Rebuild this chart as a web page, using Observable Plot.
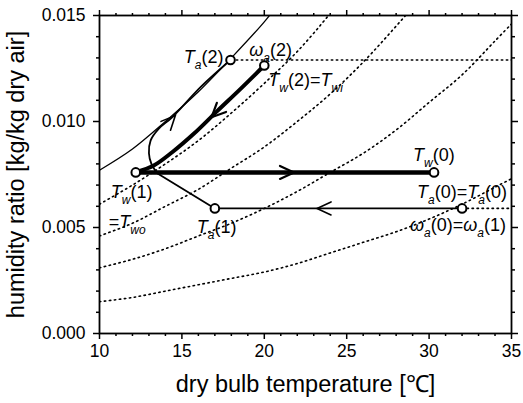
<!DOCTYPE html>
<html><head><meta charset="utf-8">
<script src="https://cdn.jsdelivr.net/npm/d3@7"></script>
<script src="https://cdn.jsdelivr.net/npm/@observablehq/plot@0.6"></script>
<style>
body{margin:0;background:#fff;}
#chart svg{display:block;font-family:"Liberation Sans",Arial,sans-serif;}
</style>
</head><body><div id="chart"></div>
<script>
// ---- data ----
const xMajor = [10, 15, 20, 25, 30, 35];
const xMinor = [11,12,13,14,16,17,18,19,21,22,23,24,26,27,28,29,31,32,33,34];
const yMajor = [0, 0.005, 0.010, 0.015];
const yMinor = [0.001,0.002,0.003,0.004,0.006,0.007,0.008,0.009,0.011,0.012,0.013,0.014];

// relative-humidity curves (dotted), dry bulb temperature vs humidity ratio
const rhT  = [10, 12, 14, 16, 18, 20, 22, 24, 26, 28, 30, 32, 34, 35];
const rh80 = [0.0061,0.0070,0.0080,0.0091,0.0104,0.0118,0.0133,0.0151,0.0171,0.0193,0.0218,0.0245,0.0275,0.0293];
const rh60 = [0.0046,0.0052,0.0060,0.0068,0.0078,0.0088,0.0100,0.0113,0.0128,0.0145,0.0163,0.0184,0.0206,0.0219];
const rh40 = [0.0031,0.0035,0.0040,0.0046,0.0052,0.0059,0.0067,0.0076,0.0085,0.0096,0.0109,0.0122,0.0138,0.0146];
const rh20 = [0.0015,0.0017,0.0020,0.0023,0.0026,0.0029,0.0033,0.0038,0.0043,0.0048,0.0054,0.0061,0.0069,0.0073];

// saturation curve (solid thin)
const satT = [10, 12, 14, 16, 18, 20, 21];
const satW = [0.0077,0.0087,0.0100,0.0114,0.0130,0.0147,0.0157];

// constant humidity-ratio dotted lines
const hLineW = [0.0129, 0.0059];
const hLineT0 = [18.0, 32.0];
const hLineT1 = [35, 35];

// state points
const ptName = ["Ta0", "Ta1", "Ta2", "Tw0", "Tw1", "Tw2"];
const ptT    = [32.0, 17.0, 17.95, 30.3, 12.2, 20.0];
const ptW    = [0.0059, 0.0059, 0.0129, 0.0076, 0.0076, 0.01264];

// air path (thin): Ta(0) -> Ta(1) -> junction
const airT1 = [32.0, 17.0, 13.5];
const airW1 = [0.0059, 0.0059, 0.00756];
// air path (thin) loop up to Ta(2)
const airT2 = [13.5, 13.15, 13.0, 13.1, 13.6, 14.41, 16.13, 17.95];
const airW2 = [0.00756, 0.0080, 0.0085, 0.0091, 0.00966, 0.0102, 0.01162, 0.0129];
// water path (thick): Tw(2) -> Tw(1) -> Tw(0)
const watT1 = [20.0, 18.56, 17.14, 15.72, 14.41, 13.29, 12.2];
const watW1 = [0.01264, 0.01154, 0.01049, 0.00942, 0.00855, 0.00792, 0.0076];
const watT2 = [12.2, 30.3];
const watW2 = [0.0076, 0.0076];

// arrow heads along the paths (tip position, direction in degrees clockwise from up)
const arrT   = [16.8, 14.6, 21.8, 23.2];
const arrW   = [0.0102, 0.01028, 0.0076, 0.0059];
const arrDir = [225, 43, 90, 270];
const arrThick = [true, false, true, false];

// annotations
const labelText = ["T_{a}(2)", "ω_{a}(2)", "T_{w}(2)=T_{wi}", "T_{w}(1)", "=T_{wo}", "T_{a}(1)", "T_{w}(0)", "T_{a}(0)=T_{a}(0)", "ω_{a}(0)=ω_{a}(1)"];
const labelAt   = ["Ta2", "Tw2", "Tw2", "Tw1", "Tw1", "Ta1", "Tw0", "Ta0", "Ta0"];
// layout of the annotations (pixel offsets from their point)
const labelLayout = [
  {dx: -7, dy: 3, anchor: "end"},
  {dx: -15, dy: -10, anchor: "start"},
  {dx: 4, dy: 20, anchor: "start"},
  {dx: -25, dy: 26, anchor: "start"},
  {dx: -27, dy: 56, anchor: "start"},
  {dx: -18, dy: 25, anchor: "start"},
  {dx: -21, dy: -11, anchor: "start"},
  {dx: -45, dy: -10, anchor: "start"},
  {dx: -52, dy: 23, anchor: "start"}
];

// ---- build ----
const zip = (xs, ys) => xs.map((x, i) => ({x, y: ys[i]}));
const pts = ptName.map((n, i) => ({name: n, x: ptT[i], y: ptW[i]}));
const ptBy = Object.fromEntries(pts.map(p => [p.name, p]));
const rhCurves = [rh80, rh60, rh40, rh20].map(ws => zip(rhT, ws));
const hLines = hLineW.map((w, i) => [{x: hLineT0[i], y: w}, {x: hLineT1[i], y: w}]);
const arrows = arrT.map((t, i) => ({x: t, y: arrW[i], rot: arrDir[i], thick: arrThick[i]}));

const dotStyle = {stroke: "#000", strokeWidth: 1.6, strokeDasharray: "1.4,3.6", clip: true};

function buildMarks(chevron) {
  const marks = [];
  rhCurves.forEach(c => marks.push(Plot.line(c, {x: "x", y: "y", curve: "catmull-rom", ...dotStyle})));
  hLines.forEach(c => marks.push(Plot.line(c, {x: "x", y: "y", ...dotStyle})));
  marks.push(Plot.line(zip(satT, satW), {x: "x", y: "y", curve: "catmull-rom", stroke: "#000", strokeWidth: 1.3, clip: true}));
  marks.push(Plot.line(zip(airT1, airW1), {x: "x", y: "y", stroke: "#000", strokeWidth: 1.8}));
  marks.push(Plot.line(zip(airT2, airW2), {x: "x", y: "y", curve: "catmull-rom", stroke: "#000", strokeWidth: 1.8}));
  marks.push(Plot.line(zip(watT1, watW1), {x: "x", y: "y", curve: "catmull-rom", stroke: "#000", strokeWidth: 4}));
  marks.push(Plot.line(zip(watT2, watW2), {x: "x", y: "y", stroke: "#000", strokeWidth: 4.5}));
  [true, false].forEach(th => {
    marks.push(Plot.vector(arrows.filter(a => a.thick === th), {
      x: "x", y: "y", rotate: "rot", anchor: "end", length: 15,
      shape: chevron ? {draw(ctx, l) { ctx.moveTo(-6.5, 14 - l); ctx.lineTo(0, -l); ctx.lineTo(6.5, 14 - l); }} : "arrow",
      r: chevron ? undefined : 8,
      stroke: "#000", strokeWidth: th ? 2.2 : 1.6, strokeLinejoin: "miter"
    }));
  });
  marks.push(Plot.dot(pts, {x: "x", y: "y", r: 4.3, stroke: "#000", strokeWidth: 2, fill: "#fff"}));
  labelText.forEach((t, i) => {
    const p = ptBy[labelAt[i]];
    const L = labelLayout[i];
    marks.push(Plot.text([{x: p.x, y: p.y, t}], {
      x: "x", y: "y", text: "t", dx: L.dx, dy: L.dy, textAnchor: L.anchor,
      lineAnchor: "bottom", fontSize: 18, fill: "#000"
    }));
  });
  // axes
  const tick = {stroke: "#000", strokeWidth: 1.5};
  marks.push(Plot.axisX({anchor: "bottom", ticks: xMajor, tickSize: 6, tickPadding: 5, fontSize: 17.5,
    tickFormat: d => String(d), label: "dry bulb temperature [℃]", labelAnchor: "center", labelArrow: "none",
    labelOffset: 58, ...tick, fill: "#000"}));
  marks.push(Plot.axisX({anchor: "bottom", ticks: xMinor, tickSize: 3, fill: "none", label: null, ...tick}));
  marks.push(Plot.axisX({anchor: "top", ticks: xMajor, tickSize: 6, fill: "none", label: null, ...tick}));
  marks.push(Plot.axisX({anchor: "top", ticks: xMinor, tickSize: 3, fill: "none", label: null, ...tick}));
  marks.push(Plot.axisY({anchor: "left", ticks: yMajor, tickSize: 6, tickPadding: 8, fontSize: 17.5,
    tickFormat: d3.format(".3f"), label: "humidity ratio [kg/kg dry air]", labelAnchor: "center", labelArrow: "none",
    labelOffset: 92, ...tick, fill: "#000"}));
  marks.push(Plot.axisY({anchor: "left", ticks: yMinor, tickSize: 3, fill: "none", label: null, ...tick}));
  marks.push(Plot.axisY({anchor: "right", ticks: yMajor, tickSize: 6, fill: "none", label: null, ...tick}));
  marks.push(Plot.axisY({anchor: "right", ticks: yMinor, tickSize: 3, fill: "none", label: null, ...tick}));
  marks.push(Plot.frame({stroke: "#000", strokeWidth: 1.8}));
  return marks;
}

function make(chevron) {
  return Plot.plot({
    width: 523, height: 403,
    marginLeft: 99, marginRight: 12, marginTop: 15, marginBottom: 70,
    style: {fontFamily: '"Liberation Sans", Arial, sans-serif', background: "#fff", color: "#000", overflow: "visible"},
    x: {domain: [10, 35]},
    y: {domain: [0, 0.015]},
    marks: buildMarks(chevron)
  });
}

let chart;
try { chart = make(true); } catch (e) { chart = make(false); }
document.getElementById("chart").appendChild(chart);

// style axis labels
d3.select(chart).selectAll("text")
  .filter(function() { return /dry bulb|humidity ratio/.test(this.textContent); })
  .attr("font-size", 23.5);

// rich text for annotations (italic symbols, subscripts)
d3.select(chart).selectAll("text")
  .filter(function() { return this.textContent.includes("_{"); })
  .each(function() {
    const s = this.textContent;
    this.textContent = "";
    const sel = d3.select(this);
    const re = /_\{([^}]*)\}|([Tω])|([^_Tω]+)/g;
    let m, shifted = false;
    while ((m = re.exec(s))) {
      const t = sel.append("tspan");
      if (m[1] !== undefined) {
        t.attr("font-size", 12).attr("font-style", "italic").attr("dy", shifted ? 0 : 6).text(m[1]);
        shifted = true;
      } else {
        if (shifted) { t.attr("dy", -6); shifted = false; }
        if (m[2]) t.attr("font-style", "italic");
        t.text(m[2] || m[3]);
      }
    }
  });
</script>
</body></html>
